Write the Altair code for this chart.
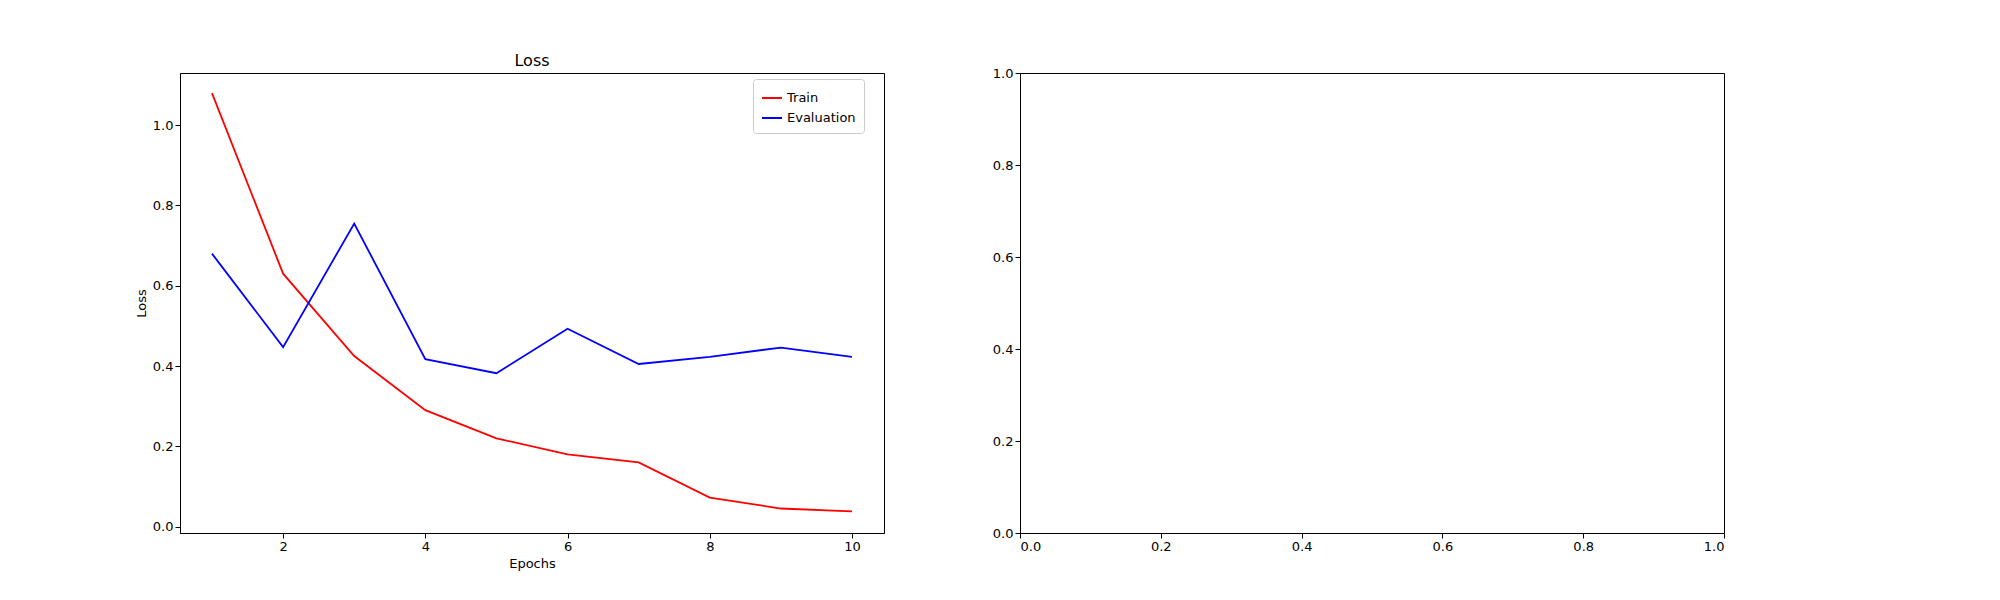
import altair as alt
import pandas as pd

epochs = list(range(1, 11))
train_loss = [1.08, 0.63, 0.425, 0.29, 0.22, 0.18, 0.16, 0.072, 0.045, 0.038]
eval_loss = [0.68, 0.447, 0.755, 0.417, 0.382, 0.493, 0.405, 0.423, 0.446, 0.423]

df = pd.DataFrame({
    "Epochs": epochs * 2,
    "Loss": train_loss + eval_loss,
    "series": ["Train"] * 10 + ["Evaluation"] * 10,
})

FONT = "DejaVu Sans"
W, H = 704, 460

def axis(title=None, values=None, fmt=".1f"):
    kw = dict(grid=False, domainColor="black", tickColor="black", labelColor="black",
              labelFont=FONT, labelFontSize=13, tickSize=5, titleFont=FONT,
              titleFontSize=13, titleFontWeight="normal", titleColor="black", format=fmt)
    if values is not None:
        kw["values"] = values
    kw["title"] = title if title else None
    return alt.Axis(**kw)

view = alt.ViewConfig(stroke="black", strokeWidth=1, strokeOpacity=1)

left = alt.Chart(df).mark_line(strokeWidth=1.8).encode(
    x=alt.X("Epochs:Q", scale=alt.Scale(domain=[0.55, 10.45], nice=False, zero=False),
            axis=axis("Epochs", [2, 4, 6, 8, 10], "d")),
    y=alt.Y("Loss:Q", scale=alt.Scale(domain=[-0.016, 1.13], nice=False),
            axis=axis("Loss", [0, 0.2, 0.4, 0.6, 0.8, 1.0])),
    color=alt.Color("series:N", sort=["Train", "Evaluation"],
                    scale=alt.Scale(domain=["Train", "Evaluation"], range=["red", "blue"]),
                    legend=alt.Legend(title=None, orient="none", legendX=573, legendY=6,
                                      symbolType="stroke",
                                      symbolStrokeWidth=2, symbolSize=400, labelFont=FONT,
                                      labelFontSize=13, labelColor="black", strokeColor="#cccccc",
                                      fillColor="white", padding=8, cornerRadius=3)),
).properties(width=W, height=H, view=view,
             title=alt.TitleParams("Loss", font=FONT, fontSize=16,
                                   fontWeight="normal", color="black"))

empty = pd.DataFrame({"x": [0.5], "y": [0.5]})
right = alt.Chart(empty).mark_point(opacity=0).encode(
    x=alt.X("x:Q", scale=alt.Scale(domain=[0, 1], nice=False),
            axis=axis(None, [0, 0.2, 0.4, 0.6, 0.8, 1.0])),
    y=alt.Y("y:Q", scale=alt.Scale(domain=[0, 1], nice=False),
            axis=axis(None, [0, 0.2, 0.4, 0.6, 0.8, 1.0])),
).properties(width=W, height=H, view=view)

chart = alt.hconcat(left, right, spacing=106).properties(
    padding={"left": 126, "top": 44, "right": 10, "bottom": 10}
).configure_view(stroke="black", strokeWidth=1).configure(background="white")

chart.save("out.html", embed_options={"renderer": "svg", "actions": False})
